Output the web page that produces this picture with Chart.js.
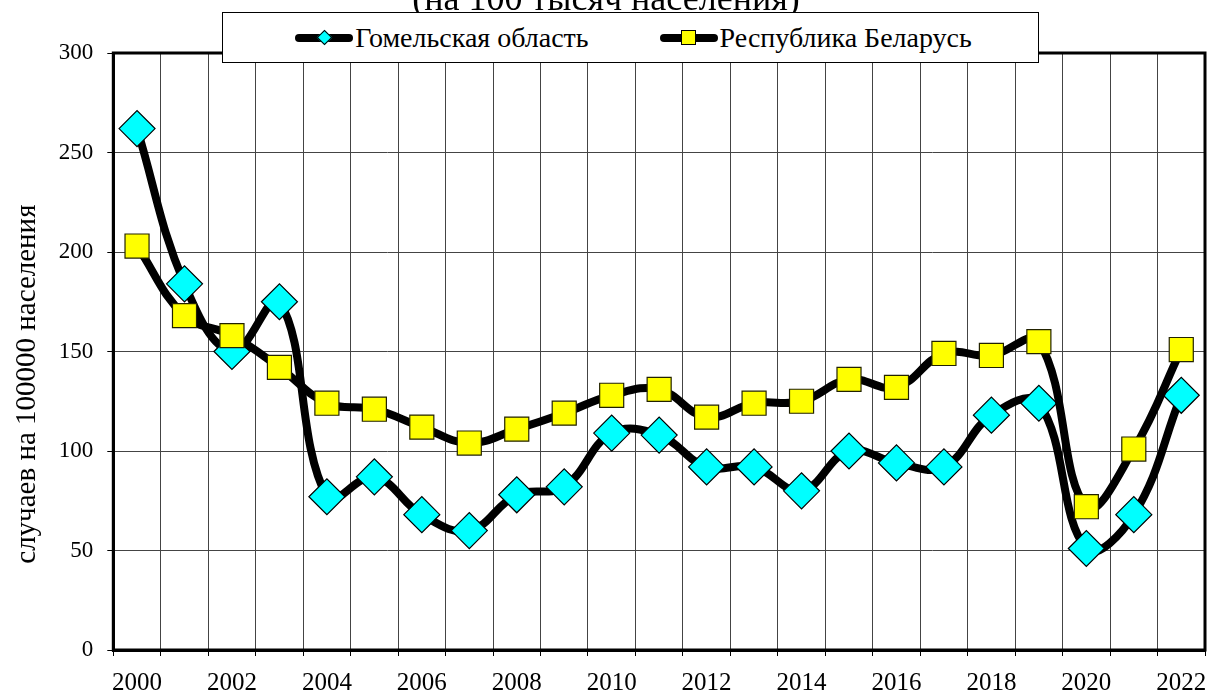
<!DOCTYPE html>
<html>
<head>
<meta charset="utf-8">
<script src="https://cdn.jsdelivr.net/npm/chart.js@4.4.1/dist/chart.umd.min.js"></script>
<style>
  body { margin: 0; background: #fff; }
  #wrap { position: relative; width: 1211px; height: 690px; overflow: hidden; }
  #legend {
    position: absolute; left: 222px; top: 12px; width: 817px; height: 51px;
    box-sizing: border-box; border: 1px solid #000; background: #fff;
    display: flex; align-items: center; justify-content: center; gap: 71px;
    padding-left: 6px;
    font: 28px 'Liberation Serif', 'Times New Roman', serif; color: #000;
  }
  .item { display: flex; align-items: center; }
  .mark { position: relative; width: 58px; height: 8px; background: #000; border-radius: 4px; margin-right: 2px; }
  .mark i { position: absolute; left: 50%; top: 50%; box-sizing: border-box; border: 1px solid #000; }
</style>
</head>
<body>
<div id="wrap">
  <canvas id="chart" width="1211" height="690"></canvas>
  <div id="legend"></div>
</div>
<script>
const years = ['2000', '2001', '2002', '2003', '2004', '2005', '2006', '2007', '2008', '2009', '2010', '2011',
  '2012', '2013', '2014', '2015', '2016', '2017', '2018', '2019', '2020', '2021', '2022']

// Гомельская область
const gomel = [262, 184, 150, 175, 77, 87, 68, 60, 78, 82, 109, 108, 92, 92, 80, 100, 94, 92, 118, 124, 51, 68, 128]
// Республика Беларусь
const belarus = [203, 168, 158, 142, 124, 121, 112, 104, 111, 119, 128, 131, 117, 124, 125, 136, 132, 149, 148, 155, 72, 101, 151]

const serif = "'Liberation Serif', 'Times New Roman', serif"

// frame round the plot (top and right sides too)
const frame = {
  id: 'frame',
  beforeDatasetsDraw (chart) {
    const { ctx, chartArea: a } = chart
    ctx.save()
    ctx.strokeStyle = '#000'
    ctx.lineWidth = 3
    ctx.strokeRect(a.left, a.top, a.right - a.left, a.bottom - a.top)
    ctx.restore()
  }
}

const ctx = document.getElementById('chart').getContext('2d')
const chart = new Chart(ctx, {
  type: 'line',
  data: {
    labels: years,
    datasets: [
      {
        label: 'Республика Беларусь',
        data: belarus,
        borderColor: '#000',
        borderWidth: 8,
        borderCapStyle: 'round',
        borderJoinStyle: 'round',
        tension: 0.4,
        pointStyle: 'rect',
        pointRadius: 17,
        pointBackgroundColor: '#ffff00',
        pointBorderColor: '#222200',
        pointBorderWidth: 1.2
      },
      {
        label: 'Гомельская область',
        data: gomel,
        borderColor: '#000',
        borderWidth: 8,
        borderCapStyle: 'round',
        borderJoinStyle: 'round',
        tension: 0.4,
        pointStyle: 'rectRot',
        pointRadius: 18,
        pointBackgroundColor: '#00ffff',
        pointBorderColor: '#000',
        pointBorderWidth: 1.2
      }
    ]
  },
  options: {
    responsive: false,
    animation: false,
    layout: { autoPadding: false, padding: { left: 7, right: 6, top: 0, bottom: -20 } },
    plugins: {
      legend: { display: false },
      tooltip: { enabled: false },
      title: {
        display: true,
        text: '(на 100 тысяч населения)',
        color: '#000',
        font: { family: serif, size: 36, weight: 'normal', lineHeight: 1 },
        padding: { top: -17, bottom: 34 }
      }
    },
    scales: {
      x: {
        offset: true,
        // labels sit in the middle of their cells, no extra room needed at the ends
        afterFit: scale => { scale.paddingLeft = 0; scale.paddingRight = 0 },
        grid: { offset: true, color: '#444', lineWidth: 1, tickLength: 6, tickColor: '#000' },
        border: { color: '#000', width: 3 },
        ticks: {
          autoSkip: false,
          maxRotation: 0,
          color: '#000',
          padding: 12,
          font: { family: serif, size: 25 },
          callback: (v, i) => (i % 2 === 0 ? years[i] : '')
        }
      },
      y: {
        min: 0,
        max: 300,
        grid: { color: '#444', lineWidth: 1, tickLength: 6, tickColor: '#000' },
        border: { color: '#000', width: 3 },
        ticks: {
          stepSize: 50,
          color: '#000',
          padding: 14,
          font: { family: serif, size: 23 }
        },
        title: {
          display: true,
          text: 'случаев на 100000 населения' + '\u00a0'.repeat(9),
          color: '#000',
          font: { family: serif, size: 29 },
          padding: { top: 3, bottom: 0 }
        }
      }
    }
  },
  plugins: [frame]
})

// html legend, Gomel first as in the original
const legend = document.getElementById('legend')
chart.data.datasets.slice().reverse().forEach(ds => {
  const item = document.createElement('div')
  item.className = 'item'
  const mark = document.createElement('span')
  mark.className = 'mark'
  const m = document.createElement('i')
  if (ds.pointStyle === 'rectRot') {
    m.style.cssText = 'width:11px;height:11px;margin:-5.5px 0 0 -5.5px;transform:rotate(45deg);background:' + ds.pointBackgroundColor
  } else {
    m.style.cssText = 'width:15px;height:15px;margin:-7.5px 0 0 -7.5px;background:' + ds.pointBackgroundColor
  }
  mark.appendChild(m)
  item.appendChild(mark)
  item.appendChild(document.createTextNode(ds.label))
  legend.appendChild(item)
})
</script>
</body>
</html>
